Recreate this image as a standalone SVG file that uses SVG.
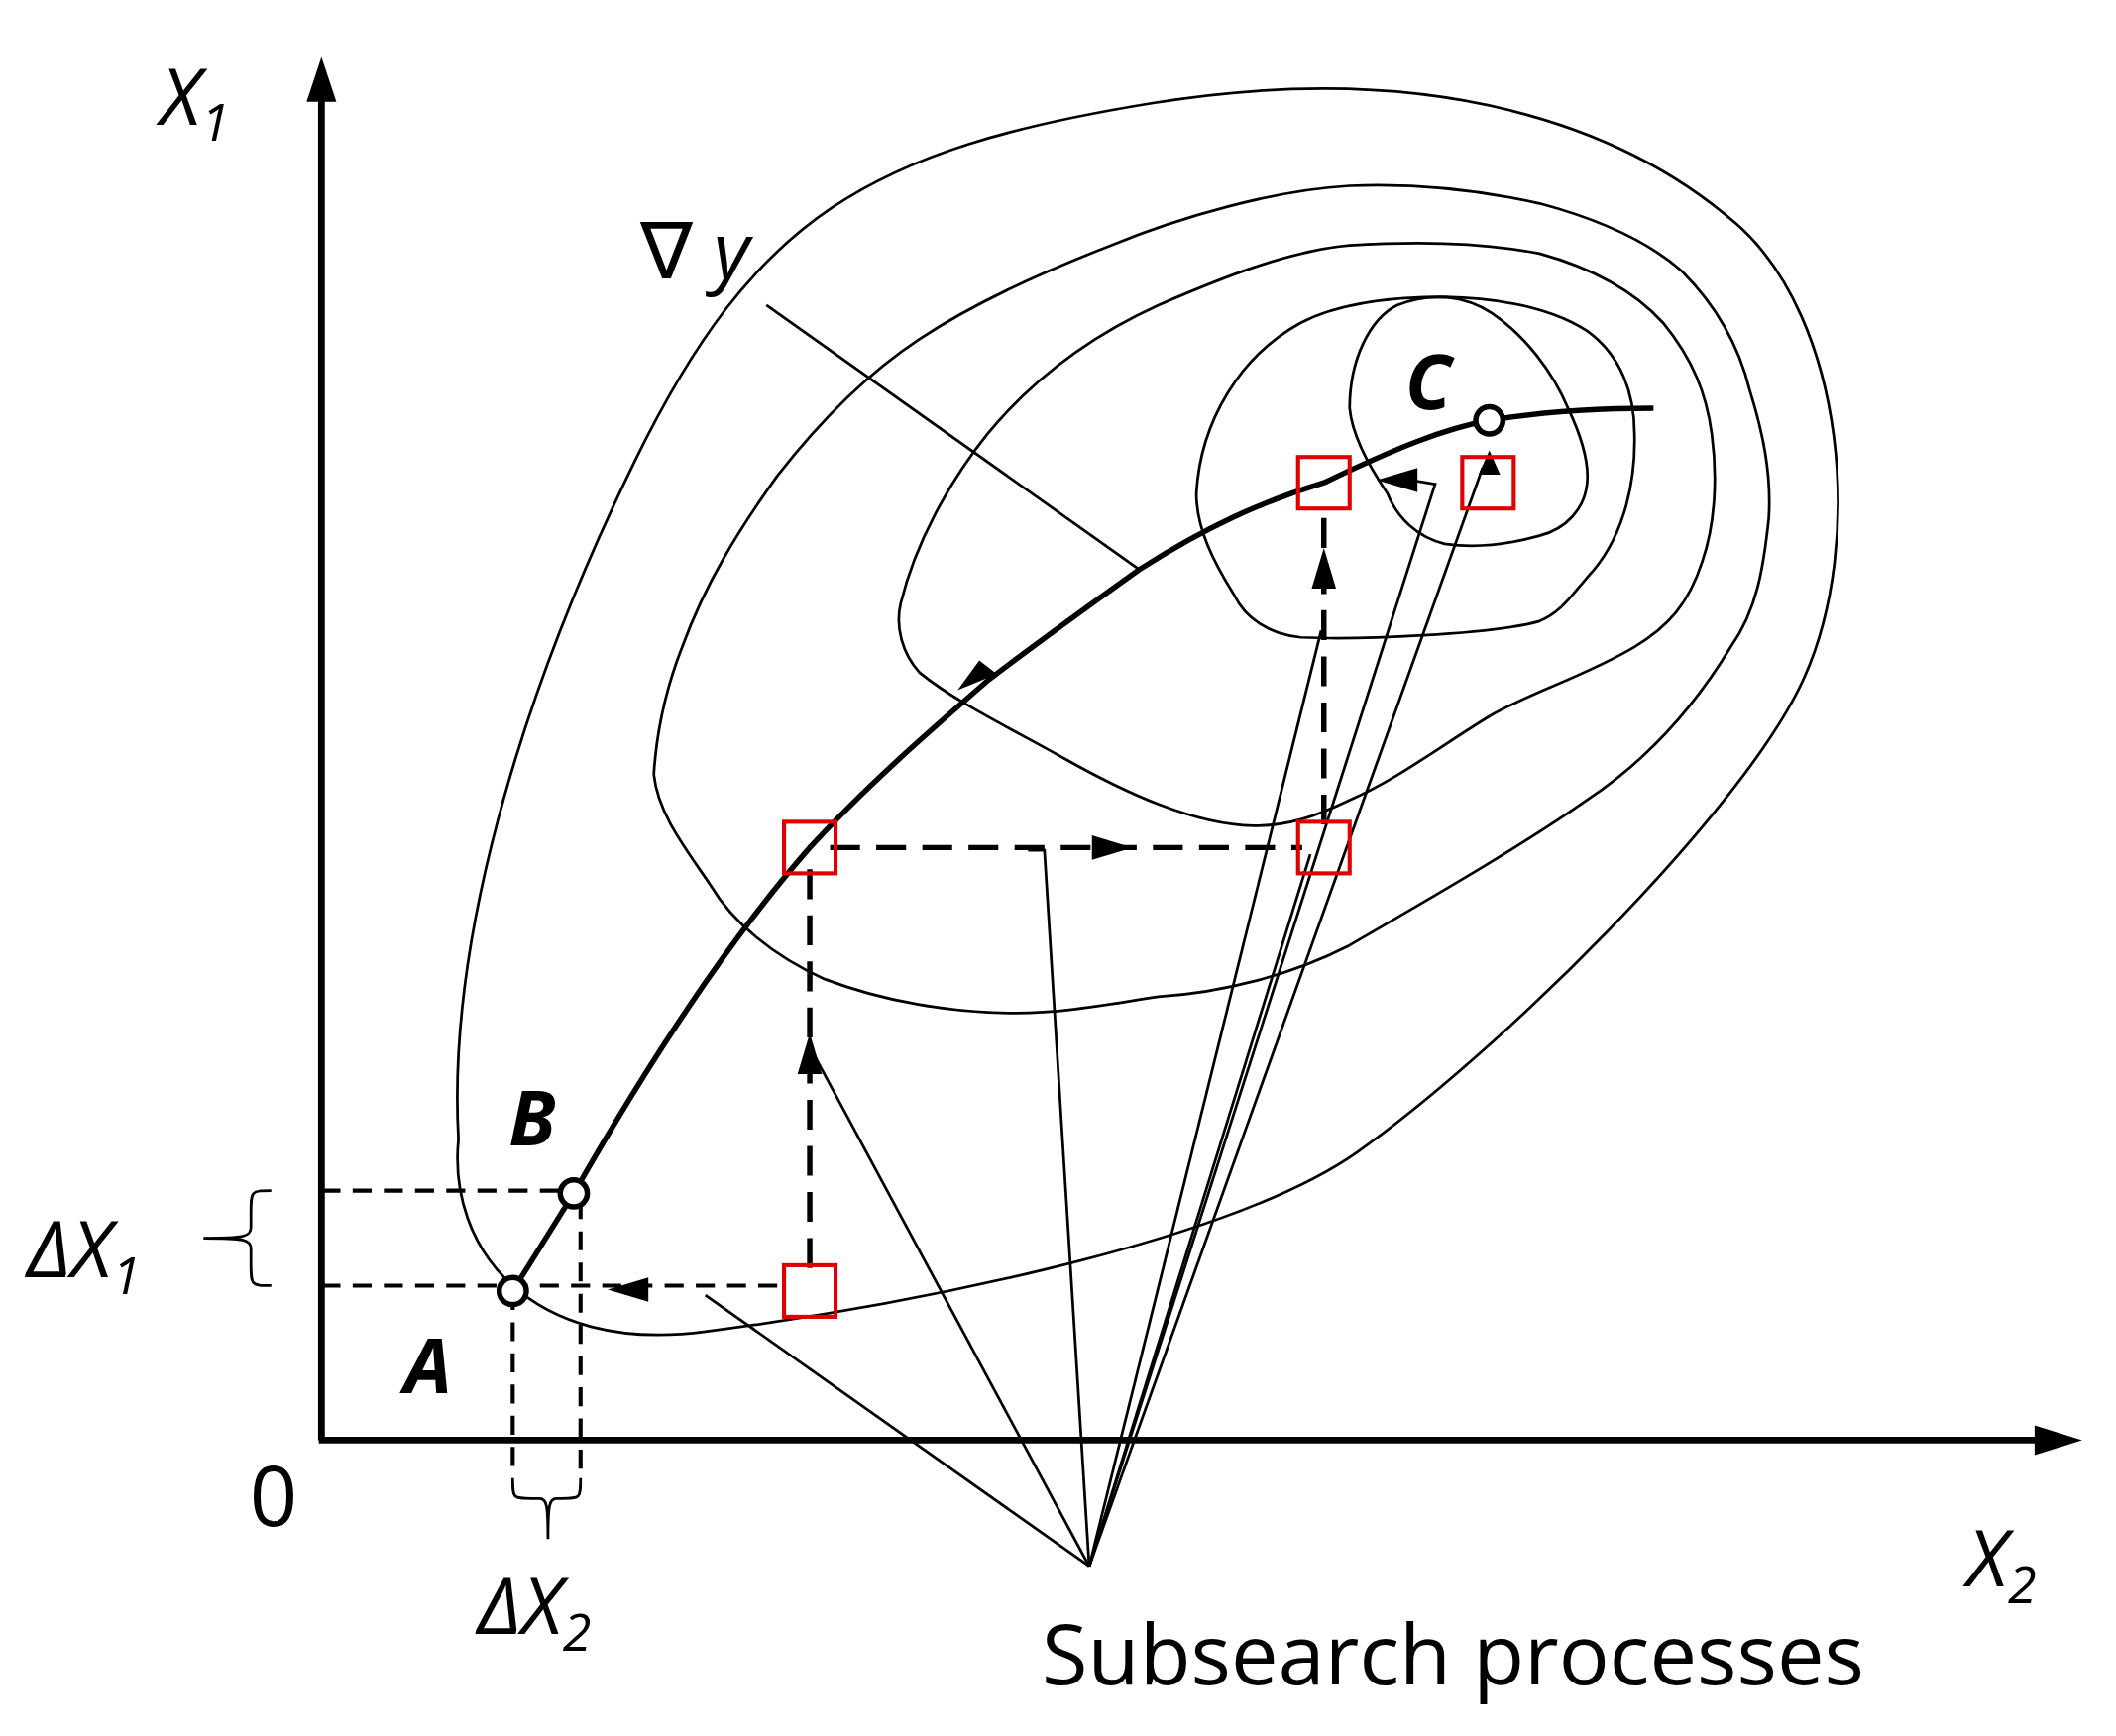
<svg xmlns="http://www.w3.org/2000/svg" width="2135" height="1752" viewBox="0 0 2135 1752">
<style>
.c{fill:none;stroke:#000;stroke-width:2}
.ax{fill:none;stroke:#000;stroke-width:5}
.d{fill:none;stroke:#000;stroke-width:3;stroke-dasharray:14 9}
.d2{fill:none;stroke:#000;stroke-width:4;stroke-dasharray:22 12}
.t{fill:none;stroke:#000;stroke-width:2}
.sq{fill:none;stroke:#e00000;stroke-width:3}
.pt{fill:#fff;stroke:#000;stroke-width:4}
.lb{font-family:"Open Sans","DejaVu Sans",sans-serif;font-size:58px;font-style:italic}
.bl{font-family:"Open Sans","DejaVu Sans",sans-serif;font-size:56px;font-style:italic;font-weight:bold}
.n{font-family:"Open Sans","DejaVu Sans",sans-serif;font-size:62px}
</style>
<rect width="2135" height="1752" fill="#fff"/>
<g transform="scale(1.3686)">
<g id="contours">
<path class="c" d="M338,840 C330,700 380,520 468,340 S640,110 850,76 S1200,95 1280,165 S1375,400 1330,500 S1100,780 1000,850 S650,965 520,982 S330,920 338,840Z"/>
<path class="c" d="M482,571 C484,540 490,510 503,477 C520,430 545,390 573,351 C605,310 640,275 678,250 C720,222 770,200 819,181 C870,160 940,140 995,137 C1045,135 1090,140 1135,150 C1180,162 1215,178 1240,200 C1265,225 1282,255 1290,288 C1300,320 1306,350 1304,382 C1300,420 1295,450 1276,477 C1250,520 1215,560 1170,590 C1120,625 1050,665 995,697 C950,720 900,732 854,735 C820,740 785,747 749,747 C700,747 650,738 608,722 C570,705 540,680 524,653 C505,625 485,600 482,571Z"/>
<path class="c" d="M664,445 C675,400 700,355 728,320 C765,275 810,245 854,225 C900,205 950,185 995,181 C1040,178 1090,178 1135,187 C1175,198 1205,215 1226,238 C1248,265 1258,290 1262,320 C1266,350 1265,385 1255,414 C1245,445 1230,462 1205,477 C1170,498 1130,510 1100,527 C1065,548 1030,575 995,590 C970,602 950,609 924,609 C880,608 830,585 784,559 C745,537 705,518 678,496 C665,482 660,462 664,445Z"/>
<path class="c" d="M882,364 C885,310 915,262 959,238 C990,222 1030,219 1065,219 C1110,220 1145,228 1170,244 C1195,262 1205,290 1205,320 C1206,360 1195,400 1170,426 C1158,440 1150,452 1135,458 C1100,468 1000,472 959,470 C935,468 918,455 910,439 C895,415 882,390 882,364Z"/>
<path class="c" d="M995,301 C995,265 1010,235 1030,225 C1055,215 1080,218 1100,231 C1125,248 1145,275 1156,301 C1165,320 1172,340 1170,357 C1168,375 1155,390 1135,395 C1110,402 1085,404 1065,401 C1045,396 1030,382 1023,364 C1010,345 997,322 995,301Z"/>
</g>
<g id="axes">
<line class="ax" x1="237" y1="1062" x2="237" y2="70"/>
<path d="M237,42 L226,75 L248,75z"/>
<line class="ax" x1="235" y1="1062" x2="1505" y2="1062"/>
<path d="M1535,1062 L1500,1051 L1500,1073z"/>
<text class="lb" x="118" y="92">X<tspan font-size="38" dy="12">1</tspan></text>
<text class="lb" x="1450" y="1170">X<tspan font-size="38" dy="12">2</tspan></text>
<text class="n" x="184" y="1125">0</text>
</g>
<g id="connectors">
<path d="M423,880 C480,780 540,690 597,625 C640,578 690,535 728,502 C770,470 805,445 840,420 C890,388 930,370 976,356 C1030,330 1065,316 1098,310 C1140,303 1180,301 1219,301" fill="none" stroke="#000" stroke-width="4"/>
<path d="M735,497 L706,509 L722,487z"/>
<line x1="378" y1="952" x2="423" y2="880" stroke="#000" stroke-width="4"/>
<line class="d" x1="237" y1="878" x2="423" y2="878"/>
<line class="d" x1="237" y1="948" x2="580" y2="948"/>
<line class="d" x1="378" y1="952" x2="378" y2="1090"/>
<line class="d" x1="428" y1="885" x2="428" y2="1090"/>
<line class="d2" x1="597" y1="935" x2="597" y2="640"/>
<line class="d2" x1="612" y1="625" x2="960" y2="625"/>
<line class="d2" x1="976" y1="608" x2="976" y2="372"/>
<path d="M448,951 L478,942 L478,960z"/>
<path d="M597,762 L588,792 L606,792z"/>
<path d="M835,625 L805,616 L805,634z"/>
<path d="M976,404 L967,434 L985,434z"/>
<path d="M1015,354 L1045,345 L1045,363z"/>
<path d="M1098,332 L1090,350 L1106,350z"/>
<g stroke="#000" stroke-width="2" fill="none">
<line x1="803" y1="1155" x2="520" y2="955"/>
<line x1="803" y1="1155" x2="597" y2="772"/>
<polyline points="803,1155 770,627 758,627"/>
<line x1="803" y1="1155" x2="966" y2="630"/>
<line x1="803" y1="1155" x2="974" y2="465"/>
<polyline points="803,1155 1058,357 1040,354"/>
<line x1="803" y1="1155" x2="1093" y2="345"/>
<line x1="565" y1="225" x2="840" y2="420"/>
</g>
<path class="t" d="M200,878 C185,878 185,878 185,895 L185,905 C185,912 180,913 150,913 C180,913 185,914 185,921 L185,931 C185,948 185,948 200,948"/>
<path class="t" d="M378,1090 C378,1105 378,1105 392,1105 L398,1105 C403,1105 404,1110 404,1135 C404,1110 405,1105 410,1105 L414,1105 C428,1105 428,1105 428,1090"/>
</g>
<g id="points">
<rect class="sq" x="578" y="933" width="38" height="38"/>
<rect class="sq" x="578" y="606" width="38" height="38"/>
<rect class="sq" x="957" y="606" width="38" height="38"/>
<rect class="sq" x="957" y="337" width="38" height="38"/>
<rect class="sq" x="1078" y="337" width="38" height="38"/>
<circle class="pt" cx="378" cy="952" r="10"/>
<circle class="pt" cx="423" cy="880" r="10"/>
<circle class="pt" cx="1098" cy="310" r="10"/>
</g>
<g id="labels">
<text class="bl" x="298" y="1027">A</text>
<text class="bl" x="375" y="845">B</text>
<text class="bl" x="1036" y="302">C</text>
<text class="lb" x="472" y="205" font-size="68">∇ y</text>
<text class="lb" x="20" y="942">ΔX<tspan font-size="38" dy="12">1</tspan></text>
<text class="lb" x="352" y="1205">ΔX<tspan font-size="38" dy="12">2</tspan></text>
<text class="n" x="768" y="1242">Subsearch processes</text>
</g>
</g>
</svg>
